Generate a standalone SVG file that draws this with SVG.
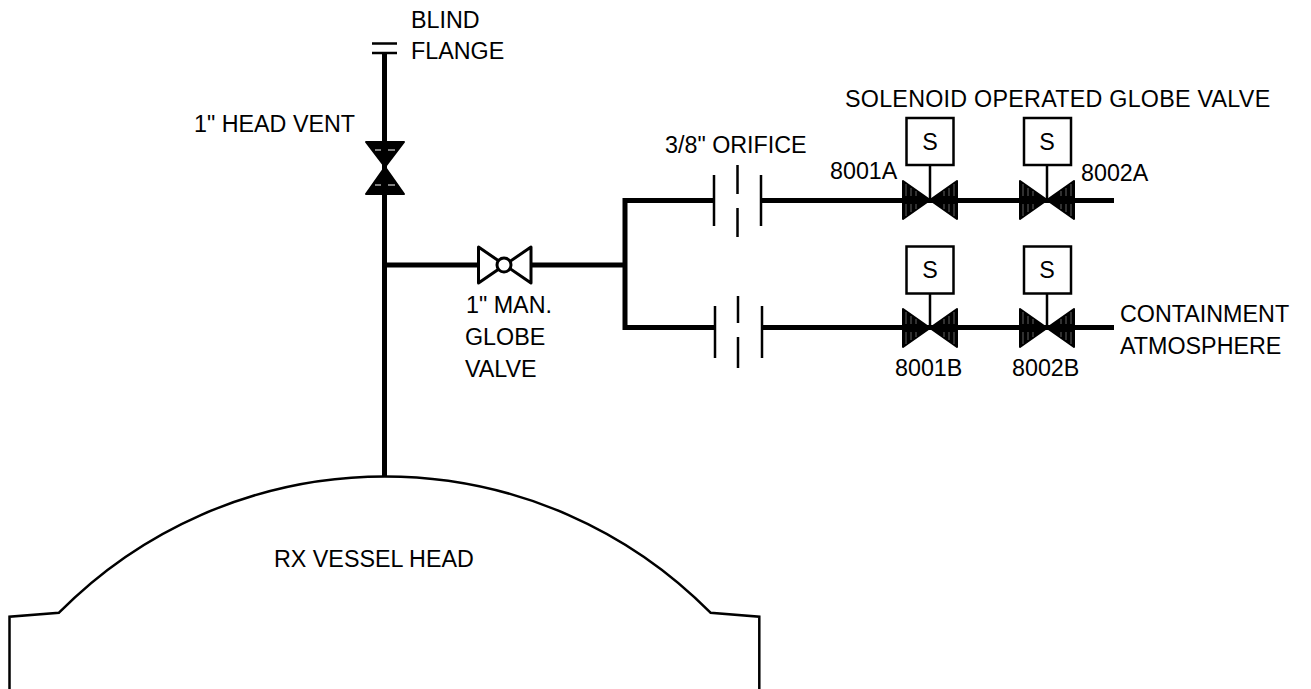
<svg xmlns="http://www.w3.org/2000/svg" width="1311" height="689" viewBox="0 0 1311 689">
<style>
text{font-family:"Liberation Sans",Arial,sans-serif;font-size:23.3px;fill:#000}
.pipe{fill:none;stroke:#000;stroke-width:5}
.thin{fill:none;stroke:#000;stroke-width:2.500}
.med{fill:none;stroke:#000;stroke-width:2.500}
.box{fill:#fff;stroke:#000;stroke-width:2.500}
.vh{fill:#000;stroke:#000;stroke-width:2;stroke-linejoin:round}
.hatch{fill:none;stroke:#fff;stroke-width:.7;stroke-opacity:.55}
</style>
<defs>
<g id="sv"><path class="vh" d="M-27,-19 L0,0 L-27,19 Z M27,-19 L0,0 L27,19 Z"/><path class="hatch" d="M-24,-16V-4M-24,4V16M-19,-12V-4M-19,4V12M-14,-9V-4M-14,4V9M24,-16V-4M24,4V16M19,-12V-4M19,4V12M14,-9V-4M14,4V9"/></g>
</defs>
<g id="connectors">
<path class="pipe" d="M384.500,53V476"/>
<path class="pipe" d="M384.500,265H478M531,265H625"/>
<path class="pipe" d="M625,198V330"/>
<path class="pipe" d="M625,200.500H714M761,200.500H1114"/>
<path class="pipe" d="M625,327.500H715M762,327.500H1114"/>
<path class="thin" d="M930,165V200M1047,165V200M930,294V328M1047,294V328"/>
</g>
<g id="blind-flange"><path class="med" d="M372,43.500H397M372,53H397"/><text x="411" y="28">BLIND</text><text x="411" y="59">FLANGE</text></g>
<g id="head-vent"><path class="vh" d="M366,142H404L385,167L404,194H366L385,167Z"/><path stroke="#fff" stroke-width="1" d="M375,150H381M388,150H395M375,185H381M388,185H395"/><text x="194" y="132">1" HEAD VENT</text></g>
<g id="man-valve"><path fill="#fff" stroke="#000" stroke-width="3" stroke-linejoin="round" d="M478.500,247V283L531,247V283Z"/><circle cx="504" cy="265" r="7" fill="#fff" stroke="#000" stroke-width="3"/><text x="466" y="313">1" MAN.</text><text x="465" y="345">GLOBE</text><text x="465" y="377">VALVE</text></g>
<g id="orifice-a"><path class="thin" d="M714,175V226M761,175V226M737.500,165V194M737.500,208V237"/><text x="665" y="153">3/8" ORIFICE</text></g>
<g id="orifice-b"><path class="thin" d="M715,306V358M762,306V358M738,296V323M738,337V368"/></g>
<g id="sov-8001a"><rect class="box" x="906.500" y="118" width="47" height="47"/><text x="930" y="150" text-anchor="middle">S</text><use href="#sv" x="930" y="200"/><text x="830" y="179">8001A</text></g>
<g id="sov-8002a"><rect class="box" x="1024" y="118" width="47" height="47"/><text x="1047" y="150" text-anchor="middle">S</text><use href="#sv" x="1047" y="200"/><text x="1081" y="181">8002A</text></g>
<g id="sov-8001b"><rect class="box" x="906.500" y="246.500" width="47" height="47"/><text x="930" y="278" text-anchor="middle">S</text><use href="#sv" x="930" y="328"/><text x="895" y="376">8001B</text></g>
<g id="sov-8002b"><rect class="box" x="1024" y="246.500" width="47" height="47"/><text x="1047" y="278" text-anchor="middle">S</text><use href="#sv" x="1047" y="328"/><text x="1012" y="376">8002B</text></g>
<g id="labels"><text x="845" y="107" style="letter-spacing:.25px">SOLENOID OPERATED GLOBE VALVE</text><text x="1120" y="322">CONTAINMENT</text><text x="1120" y="354">ATMOSPHERE</text></g>
<g id="vessel"><path class="med" d="M9.500,689V616.700L59,612.700A457.500,457.500 0 0 1 710.500,612.700L759.300,616.700V689"/><text x="274" y="567">RX VESSEL HEAD</text></g>
</svg>
